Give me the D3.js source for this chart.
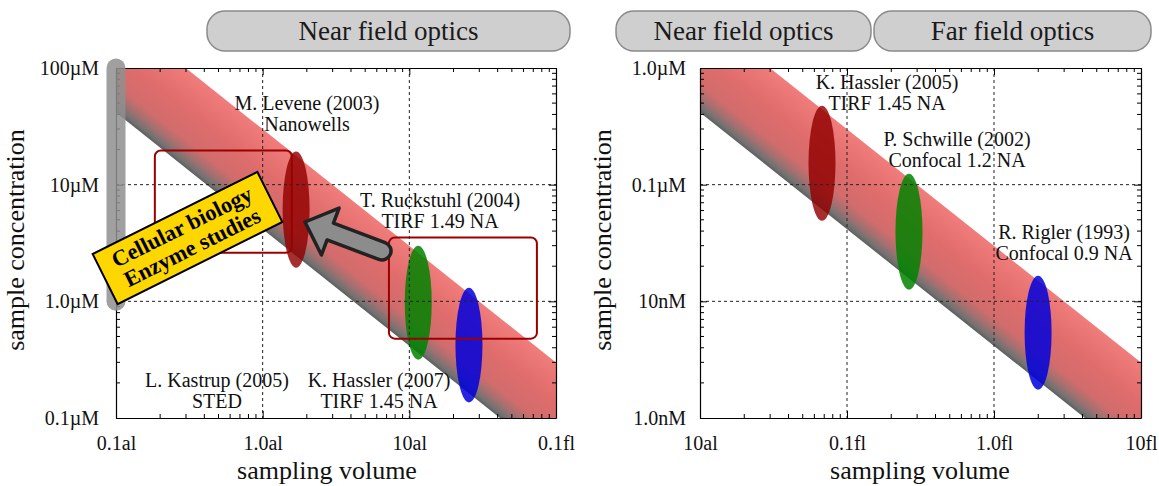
<!DOCTYPE html>
<html>
<head>
<meta charset="utf-8">
<script src="https://cdn.jsdelivr.net/npm/d3@7"></script>
<style>
  body { margin: 0; background: #fff; }
  text { font-family: "Liberation Serif", "Times New Roman", serif; }
</style>
</head>
<body>
<svg id="chart" width="1159" height="486"></svg>
<script>
// sampling volume in attolitres, concentration in mol/L
const leftVolumeTicks = [0.1, 1, 10, 100];
const leftVolumeLabels = ["0.1al", "1.0al", "10al", "0.1fl"];
const leftConcTicks = [1e-7, 1e-6, 1e-5, 1e-4];
const leftConcLabels = ["0.1\u00b5M", "1.0\u00b5M", "10\u00b5M", "100\u00b5M"];

const rightVolumeTicks = [10, 100, 1000, 10000];
const rightVolumeLabels = ["10al", "0.1fl", "1.0fl", "10fl"];
const rightConcTicks = [1e-9, 1e-8, 1e-7, 1e-6];
const rightConcLabels = ["1.0nM", "10nM", "0.1\u00b5M", "1.0\u00b5M"];

// band of "a few molecules in the focal volume"
const bandMolecules = [2.5, 18];

// experiments: volume (al), concentration range (M)
const leftExperiments = [
  { name: ["M. Levene (2003)", "Nanowells"], volume: 1.69, low: 1.94e-6, high: 1.92e-5, color: "rgba(145,0,0,0.82)" },
  { name: ["T. Ruckstuhl (2004)", "TIRF 1.49 NA"], volume: 11.5, low: 3.16e-7, high: 3.0e-6, color: "rgba(0,130,0,0.85)" },
  { name: ["K. Hassler (2007)", "TIRF 1.45 NA"], volume: 25.5, low: 1.36e-7, high: 1.31e-6, color: "rgba(0,0,220,0.85)" }
];
const rightExperiments = [
  { name: ["K. Hassler (2005)", "TIRF 1.45 NA"], volume: 67.6, low: 4.9e-8, high: 4.75e-7, color: "rgba(145,0,0,0.82)" },
  { name: ["P. Schwille (2002)", "Confocal 1.2 NA"], volume: 264, low: 1.26e-8, high: 1.24e-7, color: "rgba(0,130,0,0.85)" },
  { name: ["R. Rigler (1993)", "Confocal 0.9 NA"], volume: 1995, low: 1.75e-9, high: 1.66e-8, color: "rgba(0,0,220,0.85)" }
];

const avogadroPerAl = 6.022e5; // molecules per (M * al)

const svg = d3.select("#chart");
const defs = svg.append("defs");

function concFor(n, vol) { return n / (vol * avogadroPerAl); }

function drawPanel(opt) {
  const x = d3.scaleLog().domain(opt.xDomain).range([opt.left, opt.right]);
  const y = d3.scaleLog().domain(opt.yDomain).range([opt.bottom, opt.top]);
  const g = svg.append("g");

  defs.append("clipPath").attr("id", "clip-" + opt.id)
    .append("rect")
    .attr("x", opt.left).attr("y", opt.top)
    .attr("width", opt.right - opt.left).attr("height", opt.bottom - opt.top);

  // band polygon
  const vols = [opt.xDomain[0] / 10, opt.xDomain[1] * 10];
  const lowerPts = vols.map(v => [x(v), y(concFor(bandMolecules[0], v))]);
  const upperPts = vols.slice().reverse().map(v => [x(v), y(concFor(bandMolecules[1], v))]);

  const dx = lowerPts[1][0] - lowerPts[0][0], dy = lowerPts[1][1] - lowerPts[0][1];
  const len = Math.hypot(dx, dy);
  const nx = dy / len, ny = -dx / len;
  const p0 = lowerPts[0];
  const q = upperPts[0];
  const dist = (q[0] - p0[0]) * nx + (q[1] - p0[1]) * ny;

  const grad = defs.append("linearGradient").attr("id", "band-" + opt.id)
    .attr("gradientUnits", "userSpaceOnUse")
    .attr("x1", p0[0]).attr("y1", p0[1])
    .attr("x2", p0[0] + nx * dist).attr("y2", p0[1] + ny * dist);
  [[0, "#5e5e5e"], [0.05, "#727272"], [0.14, "#a07070"], [0.28, "#d26c6c"], [0.6, "#e06c6c"], [1, "#f07c7c"]]
    .forEach(s => grad.append("stop").attr("offset", s[0]).attr("stop-color", s[1]));

  const clipped = g.append("g").attr("clip-path", `url(#clip-${opt.id})`);
  clipped.append("path")
    .attr("d", d3.line()(lowerPts.concat(upperPts)) + "Z")
    .attr("fill", `url(#band-${opt.id})`);

  // experiment ellipses
  clipped.selectAll("ellipse.exp")
    .data(opt.experiments)
    .enter()
    .append("ellipse")
    .attr("class", "exp")
    .attr("cx", d => x(d.volume))
    .attr("cy", d => (y(d.low) + y(d.high)) / 2)
    .attr("rx", 13.5)
    .attr("ry", d => (y(d.low) - y(d.high)) / 2)
    .attr("fill", d => d.color);

  // grid
  const grid = g.append("g").attr("stroke", "#222").attr("stroke-dasharray", "3,3").attr("stroke-width", 1);
  opt.xTicks.slice(1, -1).forEach(v => {
    grid.append("line").attr("x1", x(v)).attr("x2", x(v)).attr("y1", opt.top).attr("y2", opt.bottom);
  });
  opt.yTicks.slice(1, -1).forEach(v => {
    grid.append("line").attr("x1", opt.left).attr("x2", opt.right).attr("y1", y(v)).attr("y2", y(v));
  });

  // minor ticks on all sides
  const minorX = [], minorY = [];
  for (let d = opt.xTicks[0]; d < opt.xTicks[opt.xTicks.length - 1]; d *= 10)
    for (let m = 2; m <= 9; m++) minorX.push(d * m);
  for (let d = opt.yTicks[0]; d < opt.yTicks[opt.yTicks.length - 1] * 0.99; d *= 10)
    for (let m = 2; m <= 9; m++) minorY.push(d * m);

  const ticks = g.append("g").attr("stroke", "#000").attr("stroke-width", 1);
  minorX.forEach(v => {
    ticks.append("line").attr("x1", x(v)).attr("x2", x(v)).attr("y1", opt.bottom).attr("y2", opt.bottom - 4);
    ticks.append("line").attr("x1", x(v)).attr("x2", x(v)).attr("y1", opt.top).attr("y2", opt.top + 4);
  });
  minorY.forEach(v => {
    ticks.append("line").attr("x1", opt.left).attr("x2", opt.left + 4).attr("y1", y(v)).attr("y2", y(v));
    ticks.append("line").attr("x1", opt.right).attr("x2", opt.right - 4).attr("y1", y(v)).attr("y2", y(v));
  });

  const xAxis = g.append("g")
    .attr("transform", `translate(0,${opt.bottom})`)
    .call(d3.axisBottom(x).tickValues(opt.xTicks)
      .tickFormat((d, i) => opt.xLabels[i]).tickSizeInner(-7).tickSizeOuter(0).tickPadding(18));
  const yAxis = g.append("g")
    .attr("transform", `translate(${opt.left},0)`)
    .call(d3.axisLeft(y).tickValues(opt.yTicks)
      .tickFormat((d, i) => opt.yLabels[i]).tickSizeInner(-7).tickSizeOuter(0).tickPadding(opt.yPad));
  g.append("g")
    .attr("transform", `translate(0,${opt.top})`)
    .call(d3.axisTop(x).tickValues(opt.xTicks).tickFormat("").tickSizeInner(-7).tickSizeOuter(0));
  g.append("g")
    .attr("transform", `translate(${opt.right},0)`)
    .call(d3.axisRight(y).tickValues(opt.yTicks).tickFormat("").tickSizeInner(-7).tickSizeOuter(0));

  [xAxis, yAxis].forEach(a => a.selectAll("text")
    .attr("font-size", 20).attr("fill", "#111")
    .style("font-family", '"Liberation Serif", serif'));
  g.selectAll(".domain").attr("stroke", "#000").attr("stroke-width", 1.2);

  // axis titles
  g.append("text")
    .attr("x", opt.xTitleX).attr("y", 479)
    .attr("text-anchor", "middle").attr("font-size", 26).attr("fill", "#111")
    .text("sampling volume");
  g.append("text")
    .attr("transform", `translate(${opt.yTitleX},${(opt.top + opt.bottom) / 2 - 3}) rotate(-90)`)
    .attr("text-anchor", "middle").attr("font-size", 26).attr("fill", "#111")
    .text("sample concentration");

  return { x, y, g };
}

function pill(x0, x1, label) {
  svg.append("rect")
    .attr("x", x0).attr("y", 11).attr("width", x1 - x0).attr("height", 40)
    .attr("rx", 18).attr("fill", "#cfcfcf").attr("stroke", "#8a8a8a").attr("stroke-width", 1.5);
  svg.append("text")
    .attr("x", (x0 + x1) / 2).attr("y", 40)
    .attr("text-anchor", "middle").attr("font-size", 27).attr("fill", "#1a1a1a")
    .text(label);
}

function expLabels(g, labels) {
  labels.forEach(l => {
    const t = g.append("text")
      .attr("text-anchor", "middle").attr("font-size", 20).attr("fill", "#111");
    l.lines.forEach((line, i) => {
      t.append("tspan").attr("x", l.x).attr("y", l.y + i * 21).text(line);
    });
  });
}

// ---------- left panel ----------
const left = drawPanel({
  id: "left", left: 116, right: 556, top: 68, bottom: 418,
  xDomain: [0.1, 100], yDomain: [1e-7, 1e-4],
  xTicks: leftVolumeTicks, xLabels: leftVolumeLabels,
  yTicks: leftConcTicks, yLabels: leftConcLabels,
  experiments: leftExperiments, yPad: 17, xTitleX: 327, yTitleX: 24
});

// gray bar along the concentration axis (1 uM .. 100 uM)
left.g.append("line")
  .attr("x1", left.x(0.1)).attr("x2", left.x(0.1))
  .attr("y1", left.y(1e-4)).attr("y2", left.y(1e-6))
  .attr("stroke", "#8f8f8f").attr("stroke-opacity", 0.85)
  .attr("stroke-width", 19).attr("stroke-linecap", "round");

// highlight boxes
const boxes = [
  { v0: 0.184, v1: 1.58, c0: 2.61e-6, c1: 1.96e-5 },
  { v0: 7.26, v1: 74.1, c0: 4.79e-7, c1: 3.53e-6 }
];
left.g.selectAll("rect.box")
  .data(boxes)
  .enter()
  .append("rect")
  .attr("class", "box")
  .attr("x", d => left.x(d.v0)).attr("y", d => left.y(d.c1))
  .attr("width", d => left.x(d.v1) - left.x(d.v0))
  .attr("height", d => left.y(d.c0) - left.y(d.c1))
  .attr("rx", 6).attr("fill", "none")
  .attr("stroke", "#9a0000").attr("stroke-width", 2);

// arrow pointing to the nanowell point
(function() {
  const tip = [305, 222], tail = [382, 251];
  const ang = Math.atan2(tip[1] - tail[1], tip[0] - tail[0]) * 180 / Math.PI;
  const L = Math.hypot(tip[0] - tail[0], tip[1] - tail[1]);
  const head = 27, hw = 25, sw = 9;
  const d = `M0,${-sw} L${L - head},${-sw} L${L - head},${-hw} L${L},0 L${L - head},${hw} L${L - head},${sw} L0,${sw} A${sw},${sw} 0 0 1 0,${-sw} Z`;
  left.g.append("path")
    .attr("transform", `translate(${tail[0]},${tail[1]}) rotate(${ang})`)
    .attr("d", d)
    .attr("fill", "#8c8c8c").attr("stroke", "#222").attr("stroke-width", 3.5)
    .attr("stroke-linejoin", "round");
})();

// yellow label
const tag = left.g.append("g").attr("transform", "translate(187.5,238) rotate(-26.5)");
tag.append("rect")
  .attr("x", -92).attr("y", -28).attr("width", 184).attr("height", 56)
  .attr("fill", "#ffd700").attr("stroke", "#000").attr("stroke-width", 2);
tag.append("text").attr("text-anchor", "middle").attr("font-size", 22.5).attr("font-weight", "bold")
  .attr("fill", "#000")
  .selectAll("tspan").data(["Cellular biology", "Enzyme studies"]).enter()
  .append("tspan").attr("x", 0).attr("y", (d, i) => -5 + i * 23).text(d => d);

expLabels(left.g, [
  { lines: ["M. Levene (2003)", "Nanowells"], x: 307, y: 110 },
  { lines: ["T. Ruckstuhl (2004)", "TIRF 1.49 NA"], x: 440, y: 207 },
  { lines: ["L. Kastrup (2005)", "STED"], x: 217, y: 387 },
  { lines: ["K. Hassler (2007)", "TIRF 1.45 NA"], x: 379, y: 387 }
]);

// ---------- right panel ----------
const right = drawPanel({
  id: "right", left: 700, right: 1141, top: 68, bottom: 418,
  xDomain: [10, 10000], yDomain: [1e-9, 1e-6],
  xTicks: rightVolumeTicks, xLabels: rightVolumeLabels,
  yTicks: rightConcTicks, yLabels: rightConcLabels,
  experiments: rightExperiments, yPad: 14, xTitleX: 920, yTitleX: 611
});

expLabels(right.g, [
  { lines: ["K. Hassler (2005)", "TIRF 1.45 NA"], x: 887, y: 89 },
  { lines: ["P. Schwille (2002)", "Confocal 1.2 NA"], x: 957, y: 146 },
  { lines: ["R. Rigler (1993)", "Confocal 0.9 NA"], x: 1064, y: 239 }
]);

// header pills
pill(207, 570, "Near field optics");
pill(616, 871, "Near field optics");
pill(874, 1151, "Far field optics");
</script>
</body>
</html>
